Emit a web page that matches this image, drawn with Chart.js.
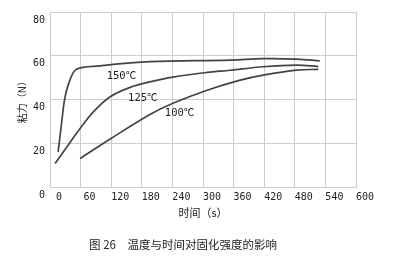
<!DOCTYPE html>
<html>
<head>
<meta charset="utf-8">
<script src="https://cdn.jsdelivr.net/npm/chart.js@4/dist/chart.umd.min.js"></script>
<style>
  html, body { margin: 0; padding: 0; background: #fff; }
  #wrap { width: 400px; height: 261px; position: relative; }
</style>
</head>
<body>
<div id="wrap"><canvas id="chart"></canvas></div>
<script>
// time (s) / bond strength (N)
const times150 = [16, 23, 29, 39, 52, 98, 196, 353, 418, 484, 529];
const values150 = [16.1, 29.8, 40.5, 48.9, 53.9, 55.4, 57.3, 58.0, 58.7, 58.5, 57.7];

const times125 = [10, 33, 59, 85, 118, 157, 196, 241, 308, 353, 418, 484, 526];
const values125 = [10.8, 18.4, 26.8, 34.4, 41.3, 45.6, 48.1, 50.3, 52.4, 53.4, 55.0, 55.7, 55.1];

const times100 = [59, 118, 196, 241, 308, 373, 418, 484, 526];
const values100 = [13.1, 22.0, 33.2, 38.3, 44.3, 48.9, 51.2, 53.5, 53.8];

const curveNames = ['150℃', '125℃', '100℃'];
const labelTimes = [140, 182, 254];
const labelValues = [50.7, 40.7, 33.8];

const xTicks = [0, 60, 120, 180, 240, 300, 360, 420, 480, 540, 600];
const yTicks = [0, 20, 40, 60, 80];

const toPoints = (xs, ys) => xs.map((x, i) => ({ x: x, y: ys[i] }));

const lineStyle = {
  borderColor: '#444444',
  borderWidth: 1.7,
  pointRadius: 0,
  fill: false,
  tension: 0.35
};

// writes the temperature next to each curve
const curveLabels = {
  id: 'curveLabels',
  afterDatasetsDraw(chart) {
    const ctx = chart.ctx;
    const xs = chart.scales.x;
    const ys = chart.scales.y;
    ctx.save();
    ctx.font = '10.5px "DejaVu Sans Mono", "Noto Sans CJK SC", sans-serif';
    ctx.fillStyle = '#222';
    ctx.textAlign = 'center';
    ctx.textBaseline = 'middle';
    curveNames.forEach((name, i) => {
      ctx.fillText(name, xs.getPixelForValue(labelTimes[i]), ys.getPixelForValue(labelValues[i]));
    });
    ctx.restore();
  }
};

new Chart(document.getElementById('chart'), {
  type: 'line',
  data: {
    datasets: [
      Object.assign({ label: curveNames[0], data: toPoints(times150, values150) }, lineStyle),
      Object.assign({ label: curveNames[1], data: toPoints(times125, values125) }, lineStyle),
      Object.assign({ label: curveNames[2], data: toPoints(times100, values100) }, lineStyle)
    ]
  },
  options: {
    responsive: true,
    maintainAspectRatio: false,
    animation: false,
    layout: { padding: { top: 12, left: 10, right: 44, bottom: 0 } },
    scales: {
      x: {
        type: 'linear',
        min: 0,
        max: 600,
        afterBuildTicks: (scale) => { scale.ticks = xTicks.map(v => ({ value: v })); },
        afterFit: (scale) => { scale.height = 41; },
        grid: { color: '#cccccc', lineWidth: 1, drawTicks: false },
        border: { color: '#cccccc' },
        ticks: {
          color: '#222',
          padding: 4,
          labelOffset: 9,
          maxRotation: 0,
          font: { family: '"DejaVu Sans Mono", monospace', size: 10 }
        },
        title: {
          display: true,
          text: '时间（s）',
          color: '#222',
          font: { family: '"Noto Sans CJK SC", sans-serif', size: 11 },
          padding: { top: 0, bottom: 9 }
        }
      },
      y: {
        min: 0,
        max: 80,
        afterBuildTicks: (scale) => { scale.ticks = yTicks.map(v => ({ value: v })); },
        afterFit: (scale) => { scale.width = 40; },
        grid: { color: '#cccccc', lineWidth: 1, drawTicks: false },
        border: { color: '#cccccc' },
        ticks: {
          color: '#222',
          padding: 5,
          labelOffset: 8,
          font: { family: '"DejaVu Sans Mono", monospace', size: 10 }
        },
        title: {
          display: true,
          text: '粘力（N）',
          color: '#222',
          font: { family: '"Noto Sans CJK SC", sans-serif', size: 10 },
          padding: { top: 6, bottom: 0 }
        }
      }
    },
    plugins: {
      legend: { display: false },
      tooltip: { enabled: false },
      title: {
        display: true,
        position: 'bottom',
        text: '图 26　温度与时间对固化强度的影响',
        color: '#222',
        font: { family: '"Noto Sans CJK SC", sans-serif', size: 11.5, weight: 'normal' },
        padding: { top: 10, bottom: 9 }
      }
    }
  },
  plugins: [curveLabels]
});
</script>
</body>
</html>
